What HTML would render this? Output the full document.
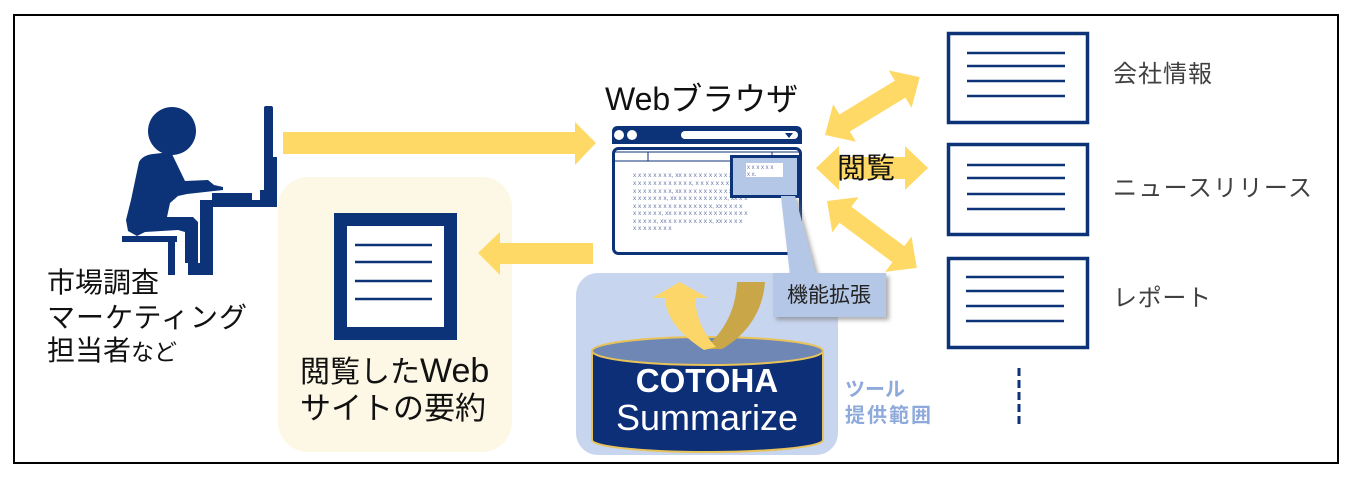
<!DOCTYPE html>
<html><head><meta charset="utf-8"><style>
html,body{margin:0;padding:0;background:#fff;}
svg{display:block;}
text{font-family:"Liberation Sans","Noto Sans CJK JP",sans-serif;}
</style></head><body>
<svg width="1356" height="483" viewBox="0 0 1356 483" xmlns="http://www.w3.org/2000/svg">
<defs>
<filter id="sh" x="-20%" y="-20%" width="150%" height="160%">
<feDropShadow dx="3" dy="3" stdDeviation="2" flood-color="#777" flood-opacity="0.6"/>
</filter>
</defs>
<rect x="0" y="0" width="1356" height="483" fill="#fff"/>
<rect x="14" y="15" width="1324" height="448" fill="none" stroke="#000" stroke-width="2"/>

<!-- person -->
<g fill="#0c3278">
<circle cx="172" cy="131" r="24"/>
<path d="M153,154 L171,152 L185,181 L208,180 L214,185 L223,187 L223,190 L187,194 L178,196 L170,203 L167,217 L193,217 L198,222 L198,263 L213,263 L213,275 L188,275 L188,263 L185,263 L185,232 L178,230 L145,232 L137,236 L128,231 L126,220 L131,200 L139,162 Q143,155 153,154 Z"/>
<rect x="122" y="236" width="55" height="6"/>
<rect x="168" y="241" width="7" height="34"/>
<rect x="200" y="200" width="13" height="75"/>
<rect x="203" y="200" width="74" height="7"/>
<rect x="212" y="193" width="40" height="8"/>
<rect x="260" y="190" width="17" height="11"/>
<path d="M264,108 Q264,106 266,106 L271,106 Q273,106 273,108 L273,157 L277,157 L277,192 L264,192 Z"/>
</g>
<text x="47" y="292" font-size="28" fill="#111">市場調査</text>
<text x="47" y="327" font-size="28" fill="#111" textLength="200">マーケティング</text>
<text x="47" y="360" font-size="28" fill="#111">担当者<tspan font-size="23">など</tspan></text>

<!-- top right arrow -->
<polygon points="283,132 575,132 575,122 596,143 575,165 575,154 283,154" fill="#ffd966"/>

<!-- cream box -->
<rect x="278" y="177" width="234" height="275" rx="30" fill="#fdf8e5"/>
<rect x="334" y="213" width="123" height="127" fill="#0c3278"/>
<rect x="347" y="226" width="97" height="101" fill="#fff"/>
<g stroke="#0c3278" stroke-width="2.5">
<line x1="355" y1="245" x2="432" y2="245"/>
<line x1="355" y1="262" x2="432" y2="262"/>
<line x1="355" y1="281" x2="432" y2="281"/>
<line x1="355" y1="299" x2="432" y2="299"/>
</g>
<text x="300" y="382" font-size="30" fill="#111">閲覧した<tspan font-size="34">Web</tspan></text>
<text x="300" y="419" font-size="31" fill="#111">サイトの要約</text>

<!-- left arrow -->
<polygon points="478,253 500,232 500,243 593,243 593,264 500,264 500,275" fill="#ffd966"/>

<!-- tool box -->
<rect x="576" y="273" width="262" height="182" rx="22" fill="#c8d5ee"/>

<!-- browser -->
<text x="605" y="110" font-size="32" fill="#111">Webブラウザ</text>
<path d="M612,144 L612,132 Q612,126 618,126 L796,126 Q802,126 802,132 L802,144 Z" fill="#0c3278"/>
<circle cx="619" cy="135" r="5" fill="#fff"/>
<circle cx="632" cy="135" r="5" fill="#fff"/>
<rect x="681" y="131" width="117" height="8" rx="4" fill="#fff"/>
<polygon points="785,133 793,133 789,138" fill="#0c3278"/>
<rect x="613.5" y="148.5" width="187" height="105" rx="5" fill="#fff" stroke="#0c3278" stroke-width="3"/>
<g stroke="#0c3278" stroke-width="1">
<line x1="614" y1="152" x2="800" y2="152"/>
<line x1="614" y1="161" x2="800" y2="161"/>
<line x1="648" y1="152" x2="648" y2="161"/>
<line x1="772" y1="152" x2="772" y2="161"/>
</g>
<g font-family="Liberation Mono, monospace" font-size="6.5" fill="#6878a8">
<text x="633" y="177">x x x x x x x x, xx x x x x x x x x x x, x x x</text>
<text x="633" y="185">x x x x x x x x x x x x, x x x x x x x x x x</text>
<text x="633" y="193">x x x x x x x x, xx x x x x x x x x x x, x x x</text>
<text x="633" y="200">x x x x x x x, xx x x x x x x x x x x, xx x x</text>
<text x="633" y="208">x x x x x x x x x x x x x x x x, xx x x x x</text>
<text x="633" y="215">x x x x x x, xx x x x x x x x x x x x x x x x</text>
<text x="633" y="223">x x x x x, xx x x x x x x x x x, xx x x x x</text>
<text x="633" y="230">x x x x x x x x</text>
</g>
<rect x="731.5" y="156.5" width="67" height="40" fill="#b4c7e7" stroke="#0c3278" stroke-width="3"/>
<rect x="746" y="163" width="37" height="14" fill="#fff"/>
<text x="747" y="169" font-family="Liberation Mono, monospace" font-size="6" fill="#6878a8">x x x x x x</text>
<text x="747" y="176" font-family="Liberation Mono, monospace" font-size="6" fill="#6878a8">x x.</text>

<!-- callout -->
<g filter="url(#sh)">
<polygon points="781,196 795,196 816,274 790,274" fill="#b4c7e7"/>
<rect x="773" y="273" width="113" height="44" fill="#b4c7e7"/>
</g>
<polygon points="781,196 795,196 816,275 790,275" fill="#b4c7e7"/>
<text x="829" y="302" font-size="21" fill="#222" text-anchor="middle">機能拡張</text>

<!-- double arrows -->
<g fill="#ffd966">
<g transform="translate(825,135) rotate(-31.4)">
<polygon points="0,0 23,-22 23,-10 88,-10 88,-22 111,0 88,22 88,10 23,10 23,22"/>
</g>
<g transform="translate(816,168)">
<polygon points="0,0 23,-22 23,-11 89,-11 89,-22 112,0 89,22 89,11 23,11 23,22"/>
</g>
<g transform="translate(827,201) rotate(36.7)">
<polygon points="0,0 23,-22 23,-10 89,-10 89,-22 112,0 89,22 89,10 23,10 23,22"/>
</g>
</g>
<text x="866" y="178" font-size="29" fill="#111" text-anchor="middle">閲覧</text>

<!-- cylinder -->
<path d="M592,351 L592,440 A115.5,12 0 0 0 823,440 L823,351 Z" fill="#0c2f78" stroke="#e8c35a" stroke-width="2"/>
<ellipse cx="707.5" cy="351" rx="115.5" ry="14" fill="#6f87b5" stroke="#e8c35a" stroke-width="2"/>
<!-- curved arrow -->
<path d="M737,282 L765,282 C763,310 748,334 722,349 L704,349 C724,332 736,310 737,282 Z" fill="#c9a647"/>
<path d="M652,298 L680,282 L708,298 L695,298 C696,318 704,334 716,347 L704,350 C684,337 666,320 665,298 Z" fill="#fcd668"/>
<text x="707" y="392" font-size="33" font-weight="bold" fill="#fff" text-anchor="middle">COTOHA</text>
<text x="707" y="430" font-size="36" fill="#fff" text-anchor="middle">Summarize</text>

<text x="845" y="396" font-size="20" font-weight="bold" fill="#8eaadb">ツール</text>
<text x="845" y="422" font-size="20" font-weight="bold" fill="#8eaadb" textLength="86">提供範囲</text>

<!-- right documents -->
<g fill="none" stroke="#0c3278" stroke-width="3.5">
<rect x="948.5" y="33.5" width="139" height="89"/>
<rect x="948.5" y="144.5" width="139" height="90"/>
<rect x="948.5" y="258.5" width="139" height="89"/>
</g>
<g stroke="#0c3278" stroke-width="2.5">
<line x1="967" y1="53" x2="1065" y2="53"/>
<line x1="967" y1="66" x2="1065" y2="66"/>
<line x1="967" y1="81" x2="1065" y2="81"/>
<line x1="967" y1="96" x2="1065" y2="96"/>
<line x1="967" y1="165" x2="1065" y2="165"/>
<line x1="967" y1="178" x2="1065" y2="178"/>
<line x1="967" y1="194" x2="1065" y2="194"/>
<line x1="967" y1="209" x2="1065" y2="209"/>
<line x1="966" y1="277" x2="1064" y2="277"/>
<line x1="966" y1="291" x2="1064" y2="291"/>
<line x1="966" y1="306" x2="1064" y2="306"/>
<line x1="966" y1="321" x2="1064" y2="321"/>
</g>
<line x1="1019" y1="368" x2="1019" y2="425" stroke="#0c3278" stroke-width="3" stroke-dasharray="8,4"/>
<text x="1113" y="82" font-size="24" fill="#404040" textLength="99">会社情報</text>
<text x="1113" y="196" font-size="24" fill="#404040" textLength="199">ニュースリリース</text>
<text x="1113" y="306" font-size="24" fill="#404040" textLength="98">レポート</text>
</svg>
</body></html>
